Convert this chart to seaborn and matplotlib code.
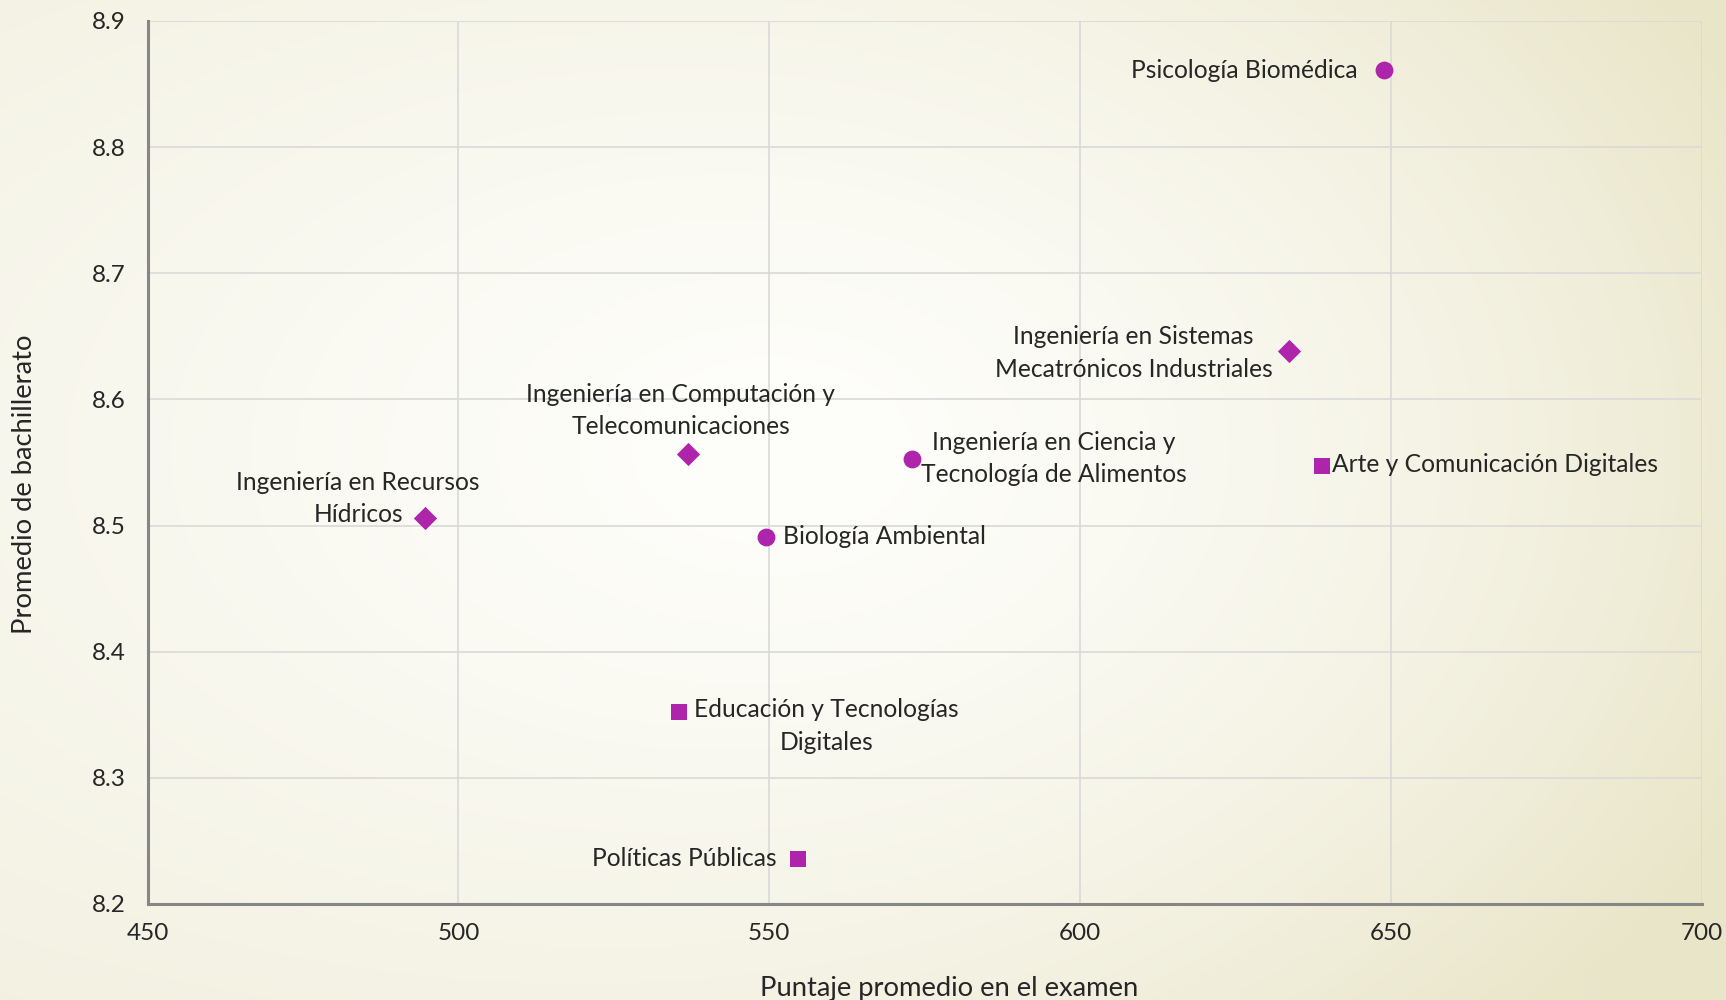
import numpy as np
import pandas as pd
import seaborn as sns
import matplotlib.pyplot as plt
from matplotlib.ticker import MultipleLocator

carreras = [
    "Psicología Biomédica",
    "Ingeniería en Sistemas\nMecatrónicos Industriales",
    "Arte y Comunicación Digitales",
    "Ingeniería en Ciencia y\nTecnología de Alimentos",
    "Ingeniería en Computación y\nTelecomunicaciones",
    "Ingeniería en Recursos\nHídricos",
    "Biología Ambiental",
    "Educación y Tecnologías\nDigitales",
    "Políticas Públicas",
]
puntaje = [648.8, 633.6, 638.9, 572.9, 536.9, 494.6, 549.5, 535.5, 554.6]
promedio = [8.861, 8.638, 8.547, 8.553, 8.557, 8.506, 8.491, 8.352, 8.236]
forma = ["circulo", "rombo", "cuadro", "circulo", "rombo", "rombo", "circulo", "cuadro", "cuadro"]

df = pd.DataFrame({"carrera": carreras, "puntaje": puntaje,
                   "promedio": promedio, "forma": forma})

# label placement: (dx, dy) in points, ha, va
etiquetas = {
    carreras[0]: ((-19, 0), "right", "center"),
    carreras[1]: ((-12, -1), "right", "center"),
    carreras[2]: ((7, 1), "left", "center"),
    carreras[3]: ((7, 0), "left", "center"),
    carreras[4]: ((-5, 31), "center", "center"),
    carreras[5]: ((-48, 14), "center", "center"),
    carreras[6]: ((12, 0), "left", "center"),
    carreras[7]: ((11, -10), "left", "center"),
    carreras[8]: ((-15, 0), "right", "center"),
}

color = "#AE24AA"
marcadores = {"circulo": ("o", 165), "rombo": ("D", 140), "cuadro": ("s", 145)}

sns.set_style("white")
plt.rcParams["font.family"] = ["Lato", "DejaVu Sans"]
plt.rcParams["text.color"] = "#262626"

fig = plt.figure(figsize=(17.26, 10), dpi=100)

# background gradient
bg = fig.add_axes([0, 0, 1, 1], zorder=-10)
h, w = 500, 863
yy, xx = np.mgrid[0:h, 0:w]
xx = xx / w
yy = yy / h
t = np.sqrt(((xx - 0.45) / 0.65) ** 2 + ((yy - 0.45) / 0.75) ** 2)
t = np.clip(t, 0, 1) ** 1.4
white = np.array([254, 254, 251]) / 255
left_edge = np.array([243, 241, 226]) / 255
right_edge = np.array([233, 229, 200]) / 255
edge = left_edge[None, None, :] * (1 - xx[..., None]) + right_edge[None, None, :] * xx[..., None]
img = white[None, None, :] * (1 - t[..., None]) + edge * t[..., None]
bg.imshow(img, aspect="auto", extent=[0, 1, 0, 1], origin="upper")
bg.axis("off")

ax = fig.add_axes([0.0855, 0.096, 0.9005, 0.883])
ax.set_facecolor("none")

for forma_k, (m, s) in marcadores.items():
    sub = df[df.forma == forma_k]
    sns.scatterplot(data=sub, x="puntaje", y="promedio", marker=m, s=s,
                    color=color, linewidth=0, ax=ax, zorder=3, legend=False)

for _, row in df.iterrows():
    (dx, dy), ha, va = etiquetas[row.carrera]
    ax.annotate(row.carrera, (row.puntaje, row.promedio), xytext=(dx, dy),
                textcoords="offset points", ha=ha, va=va, multialignment="center",
                fontsize=17.7, color="#262626", linespacing=1.5)

ax.set_xlim(450, 700)
ax.set_ylim(8.2, 8.9)
ax.xaxis.set_major_locator(MultipleLocator(50))
ax.yaxis.set_major_locator(MultipleLocator(0.1))
ax.yaxis.set_major_formatter(plt.FuncFormatter(lambda v, p: f"{v:.1f}"))
ax.grid(True, color="#D9D9D9", linewidth=1.2)
ax.set_axisbelow(True)

for side in ["top", "right"]:
    ax.spines[side].set_visible(False)
for side in ["left", "bottom"]:
    ax.spines[side].set_color("#868686")
    ax.spines[side].set_linewidth(2.2)

ax.tick_params(axis="both", length=6, width=2, color="#868686",
               labelsize=17.5, labelcolor="#262626", direction="out", pad=8)
ax.tick_params(axis="y", pad=10)

ax.set_xlabel("Puntaje promedio en el examen", fontsize=19.7, color="#262626")
ax.set_ylabel("Promedio de bachillerato", fontsize=19.7, color="#262626")
ax.xaxis.set_label_coords(0.516, -0.082)
ax.yaxis.set_label_coords(-0.071, 0.475)

fig.savefig("out.png", dpi=100)
